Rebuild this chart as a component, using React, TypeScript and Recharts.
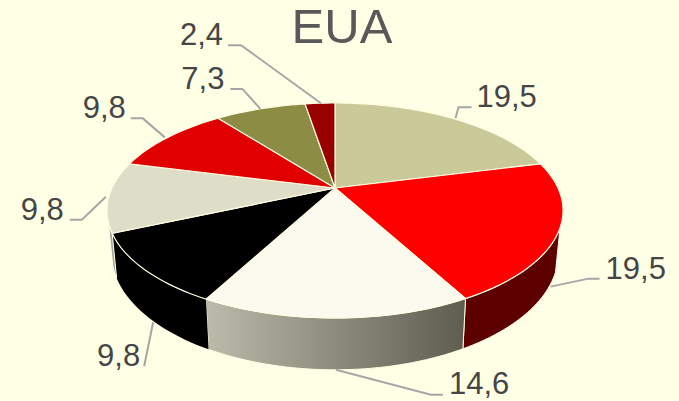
import { Pie, PieChart } from 'recharts'

const categories = ['A', 'B', 'C', 'D', 'E', 'F', 'G', 'H']
const values = [19.5, 19.5, 14.6, 9.8, 9.8, 9.8, 7.3, 2.4]
const topColors = ['#c9c999', '#ff0000', '#fafaee', '#000000', '#ddddc8', '#e00000', '#8c8c44', '#990000']
const wallColors = ['#8a8a6a', '#5c0000', 'url(#wallGradient)', '#000000', '#a5a598', '#800000', '#5c5c2c', '#600000']

// start nudge off the rim, elbow offset from the start, horizontal run, gap to the text
const leaders = [
  { sx: 3, sy: 0, dx: 3, dy: -11, run: 13, gap: 5 },
  { sx: -3, sy: 9, dx: 38, dy: -8, run: 11, gap: 6 },
  { sx: 0, sy: 0, dx: 95, dy: 25, run: 12, gap: 6 },
  { sx: 5, sy: 5, dx: -9, dy: 44, run: 0, gap: 4 },
  { sx: -3, sy: 0, dx: -24, dy: 23, run: -12, gap: 6 },
  { sx: -3, sy: 0, dx: -22, dy: -19, run: -12, gap: 5 },
  { sx: 0, sy: 0, dx: -18, dy: -20, run: -12, gap: 6 },
  { sx: 1, sy: 0, dx: -80, dy: -58, run: -13, gap: 5 },
]

const chartData = categories.map((name, i) => ({ name, value: values[i], fill: topColors[i] }))

const TILT = 102.8 / 223
const PERSPECTIVE = 0.209
const DEPTH = 41
const WALL_SHRINK = 0.98
const WALL_FROM = 111
const WALL_TO = 252
const EDGE = '#fffde2'

// Recharts angle (counter-clockwise from east) to a point on the tilted disc
function project(cx: number, cy: number, r: number, angle: number, lower = false) {
  const t = ((90 - angle) * Math.PI) / 180
  const u = Math.sin(t)
  const v = -Math.cos(t)
  const w = 1 - PERSPECTIVE * v
  const x = (r * u) / w
  const y = (r * TILT * v) / w
  if (!lower) return { x: cx + x, y: cy + y }
  return { x: cx + x * WALL_SHRINK, y: cy + y + DEPTH / w }
}

function rim(cx: number, cy: number, r: number, from: number, to: number, lower = false) {
  const steps = Math.max(2, Math.ceil(Math.abs(to - from) / 1.5))
  const pts = []
  for (let i = 0; i <= steps; i++) {
    pts.push(project(cx, cy, r, from + ((to - from) * i) / steps, lower))
  }
  return pts
}

const toPath = (pts: { x: number; y: number }[]) =>
  'M' + pts.map((p) => `${p.x.toFixed(2)},${p.y.toFixed(2)}`).join('L') + 'Z'

function Slice(props: any) {
  const { cx, cy, outerRadius, startAngle, endAngle, index } = props
  const top = rim(cx, cy, outerRadius, startAngle, endAngle)

  // clockwise position of the slice, 0 at twelve o'clock
  const a = 90 - startAngle
  const b = 90 - endAngle
  const wallA = Math.max(a, WALL_FROM)
  const wallB = Math.min(b, WALL_TO)
  let wall = null
  if (wallB > wallA) {
    const upper = rim(cx, cy, outerRadius, 90 - wallA, 90 - wallB)
    const lower = rim(cx, cy, outerRadius, 90 - wallB, 90 - wallA, true)
    wall = (
      <path
        d={toPath([...upper, ...lower])}
        fill={wallColors[index]}
        stroke={index === 3 ? 'none' : EDGE}
        strokeWidth={1}
      />
    )
  }

  return (
    <g>
      {wall}
      <path d={toPath([{ x: cx, y: cy }, ...top])} fill={props.fill} stroke={EDGE} strokeWidth={1.2} />
    </g>
  )
}

function renderLabel(props: any) {
  const { cx, cy, outerRadius, midAngle, index, value } = props
  const clock = ((90 - midAngle) % 360 + 360) % 360
  const front = clock > WALL_FROM && clock < WALL_TO
  const rimPoint = project(cx, cy, outerRadius, midAngle, front)
  const l = leaders[index]
  const sx = rimPoint.x + l.sx
  const sy = rimPoint.y + l.sy
  const ex = sx + l.dx
  const ey = sy + l.dy
  const endX = ex + l.run
  const goesRight = l.run > 0
  return (
    <g key={index}>
      <polyline
        points={`${sx},${sy} ${ex},${ey} ${endX},${ey}`}
        fill="none"
        stroke="#a6a6a6"
        strokeWidth={2}
      />
      <text
        x={goesRight ? endX + l.gap : endX - l.gap}
        y={index === 2 ? ey - 1 : ey}
        textAnchor={goesRight ? 'start' : 'end'}
        fontFamily="Liberation Sans"
        fontSize={31}
        fill="#454545"
      >
        {String(value).replace('.', ',')}
      </text>
    </g>
  )
}

export default function App() {
  return (
    <div style={{ position: 'absolute', left: 0, top: 0, width: 679, height: 401, background: '#ffffe5' }}>
      <PieChart width={679} height={401} margin={{ top: 0, right: 0, bottom: 0, left: 0 }}>
        <defs>
          <linearGradient id="wallGradient" x1="0" y1="0" x2="1" y2="0">
            <stop offset="0%" stopColor="#bbbbab" />
            <stop offset="100%" stopColor="#5d5d50" />
          </linearGradient>
        </defs>
        <text x={342} y={43} textAnchor="middle" fontFamily="Liberation Sans" fontSize={49} fill="#595959">
          EUA
        </text>
        <Pie
          data={chartData}
          dataKey="value"
          nameKey="name"
          cx={335}
          cy={188}
          outerRadius={223}
          startAngle={90}
          endAngle={-270}
          stroke="none"
          shape={Slice}
          label={renderLabel}
          labelLine={false}
          isAnimationActive={false}
        />
      </PieChart>
    </div>
  )
}
